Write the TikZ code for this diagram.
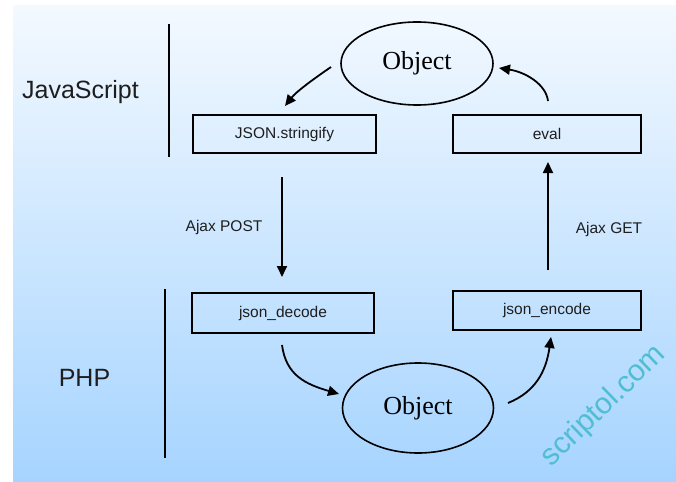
\documentclass[tikz,border=0pt]{standalone}
\usepackage{fontspec}
\setmainfont{Liberation Sans}
\newfontfamily\objfont{Liberation Serif}
\usetikzlibrary{arrows.meta,shapes.geometric}
\definecolor{bgtop}{RGB}{243,249,255}
\definecolor{bgbot}{RGB}{166,212,255}
\definecolor{wmark}{RGB}{80,190,210}
\definecolor{txt}{RGB}{30,30,30}
\tikzset{
  fnbox/.style={draw=black, line width=2pt, rectangle, inner sep=0pt, text=txt,
    font=\fontsize{15.5}{18}\selectfont},
  objell/.style={draw=black, line width=1.6pt, ellipse, inner sep=0pt,
    font=\objfont\fontsize{26}{30}\selectfont},
  lang/.style={font=\fontsize{25}{30}\selectfont, text=txt},
  ajax/.style={font=\fontsize{15.5}{18}\selectfont, text=txt},
  flow/.style={line width=1.8pt, -{Triangle[length=11pt,width=10pt]}},
  divider/.style={line width=2pt}
}
\begin{document}
\begin{tikzpicture}[x=1pt,y=-1pt]
\useasboundingbox (0,0) rectangle (676,481);
\shade[top color=bgtop, bottom color=bgbot] (13,6) rectangle (676,481);

% dividers
\coordinate (d1a) at (169,24); \coordinate (d1b) at (169,157);
\coordinate (d2a) at (165,289); \coordinate (d2b) at (165,458);
\draw[divider] (d1a) -- (d1b);
\draw[divider] (d2a) -- (d2b);

% language labels
\node[lang] (js) at (80.5,92) {JavaScript};
\node[lang] (php) at (84.5,378) {PHP};

% nodes
\node[objell, minimum width=152pt, minimum height=83pt] (objtop) at (417,63.5) {Object};
\node[objell, minimum width=151pt, minimum height=90pt] (objbot) at (418,408) {Object};
\node[fnbox, minimum width=183pt, minimum height=38pt] (stringify) at (284.5,134) {JSON.stringify};
\node[fnbox, minimum width=188pt, minimum height=38pt] (eval) at (547,134) {eval};
\node[fnbox, minimum width=182pt, minimum height=40pt] (decode) at (283,313) {json\_decode};
\node[fnbox, minimum width=188pt, minimum height=39pt] (encode) at (547,310.5) {json\_encode};

% connector end points
\coordinate (a1s) at (331,67);  \coordinate (a1e) at (285,106);
\coordinate (a2s) at (548,101); \coordinate (a2e) at (499,68);
\coordinate (a3s) at (282,177); \coordinate (a3e) at (282,277);
\coordinate (a4s) at (548,270); \coordinate (a4e) at (548,162);
\coordinate (a5s) at (282,345); \coordinate (a5e) at (339,394);
\coordinate (a6s) at (508,403); \coordinate (a6e) at (551,337);

\draw[flow] (a1s) .. controls (312,80) and (296,92) .. (a1e);
\draw[flow] (a2s) .. controls (546,84) and (525,72) .. (a2e);
\draw[flow] (a3s) -- (a3e);
\draw[flow] (a4s) -- (a4e);
\draw[flow] (a5s) .. controls (286,375) and (305,384) .. (a5e);
\draw[flow] (a6s) .. controls (535,392) and (546,372) .. (a6e);

% labels
\node[ajax] (post) at (224,227) {Ajax POST};
\node[ajax] (get) at (609,229) {Ajax GET};

% watermark
\node[text=wmark, rotate=44, font=\fontsize{30}{34}\selectfont] (wm) at (604,406) {scriptol.com};
\end{tikzpicture}
\end{document}
